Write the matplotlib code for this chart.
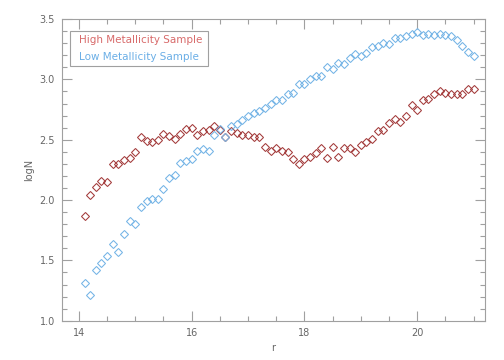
import numpy as np
import matplotlib
matplotlib.use("Agg")
import matplotlib.pyplot as plt
from matplotlib.ticker import MultipleLocator

# --- data ---
r = [14.1, 14.2, 14.3, 14.4, 14.5, 14.6, 14.7, 14.8, 14.9,
     15.0, 15.1, 15.2, 15.3, 15.4, 15.5, 15.6, 15.7, 15.8, 15.9,
     16.0, 16.1, 16.2, 16.3, 16.4, 16.5, 16.6, 16.7, 16.8, 16.9,
     17.0, 17.1, 17.2, 17.3, 17.4, 17.5, 17.6, 17.7, 17.8, 17.9,
     18.0, 18.1, 18.2, 18.3, 18.4, 18.5, 18.6, 18.7, 18.8, 18.9,
     19.0, 19.1, 19.2, 19.3, 19.4, 19.5, 19.6, 19.7, 19.8, 19.9,
     20.0, 20.1, 20.2, 20.3, 20.4, 20.5, 20.6, 20.7, 20.8, 20.9,
     21.0]

logn_high = [1.87, 2.04, 2.11, 2.16, 2.15, 2.30, 2.30, 2.33, 2.35,
             2.40, 2.52, 2.49, 2.48, 2.50, 2.55, 2.53, 2.51, 2.55, 2.59,
             2.60, 2.54, 2.57, 2.58, 2.61, 2.58, 2.52, 2.57, 2.56, 2.54,
             2.54, 2.52, 2.52, 2.44, 2.41, 2.43, 2.41, 2.40, 2.34, 2.30,
             2.34, 2.36, 2.39, 2.43, 2.35, 2.44, 2.36, 2.43, 2.43, 2.40,
             2.46, 2.48, 2.51, 2.57, 2.58, 2.64, 2.67, 2.65, 2.70, 2.79,
             2.75, 2.83, 2.84, 2.88, 2.90, 2.89, 2.88, 2.88, 2.88, 2.92,
             2.92]

logn_low = [1.31, 1.21, 1.42, 1.48, 1.54, 1.64, 1.57, 1.72, 1.83,
            1.80, 1.94, 1.99, 2.01, 2.01, 2.09, 2.18, 2.21, 2.31, 2.32,
            2.34, 2.41, 2.42, 2.41, 2.54, 2.59, 2.52, 2.61, 2.63, 2.66,
            2.70, 2.72, 2.74, 2.76, 2.80, 2.83, 2.83, 2.88, 2.89, 2.96,
            2.96, 3.00, 3.03, 3.03, 3.10, 3.09, 3.14, 3.13, 3.18, 3.21,
            3.19, 3.22, 3.27, 3.28, 3.30, 3.29, 3.34, 3.34, 3.36, 3.38,
            3.39, 3.37, 3.38, 3.37, 3.38, 3.37, 3.36, 3.33, 3.28, 3.23,
            3.19]

labels = ["High Metallicity Sample", "Low Metallicity Sample"]

red = "#a33a3a"
blue = "#74b4e6"
grey = "#a0a0a0"
txt = "#666666"

fig = plt.figure(figsize=(5.04, 3.6), dpi=100)
ax = fig.add_axes([0.123, 0.109, 0.839, 0.838])

ax.plot(r, logn_high, ls="none", marker="D", ms=3.9, mfc="none",
        mec=red, mew=0.75)
ax.plot(r, logn_low, ls="none", marker="D", ms=3.9, mfc="none",
        mec=blue, mew=0.75)

ax.set_xlim(13.7, 21.2)
ax.set_ylim(1.0, 3.5)
ax.xaxis.set_major_locator(MultipleLocator(2))
ax.xaxis.set_minor_locator(MultipleLocator(0.5))
ax.yaxis.set_major_locator(MultipleLocator(0.5))
ax.yaxis.set_minor_locator(MultipleLocator(0.1))
ax.yaxis.set_major_formatter(plt.FormatStrFormatter("%.1f"))

ax.tick_params(which="both", direction="in", top=True, right=True,
               color=grey, width=0.8, labelsize=7, labelcolor=txt, pad=5)
ax.tick_params(which="major", length=7)
ax.tick_params(which="minor", length=3.5)
for s in ax.spines.values():
    s.set_color(grey)
    s.set_linewidth(0.8)

ax.set_xlabel("r", fontsize=7, color=txt)
ax.set_ylabel("logN", fontsize=7, color=txt)

# legend box drawn like the IDL one: text only, coloured
ax.text(0.04, 0.93, labels[0], transform=ax.transAxes, fontsize=7.5,
        color="#d86a6a", va="center")
ax.text(0.04, 0.875, labels[1], transform=ax.transAxes, fontsize=7.5,
        color="#6aaee6", va="center")
ax.add_patch(plt.Rectangle((0.02, 0.845), 0.325, 0.115, transform=ax.transAxes,
                           fill=False, ec=grey, lw=0.8))

fig.savefig("out.png", dpi=100)
